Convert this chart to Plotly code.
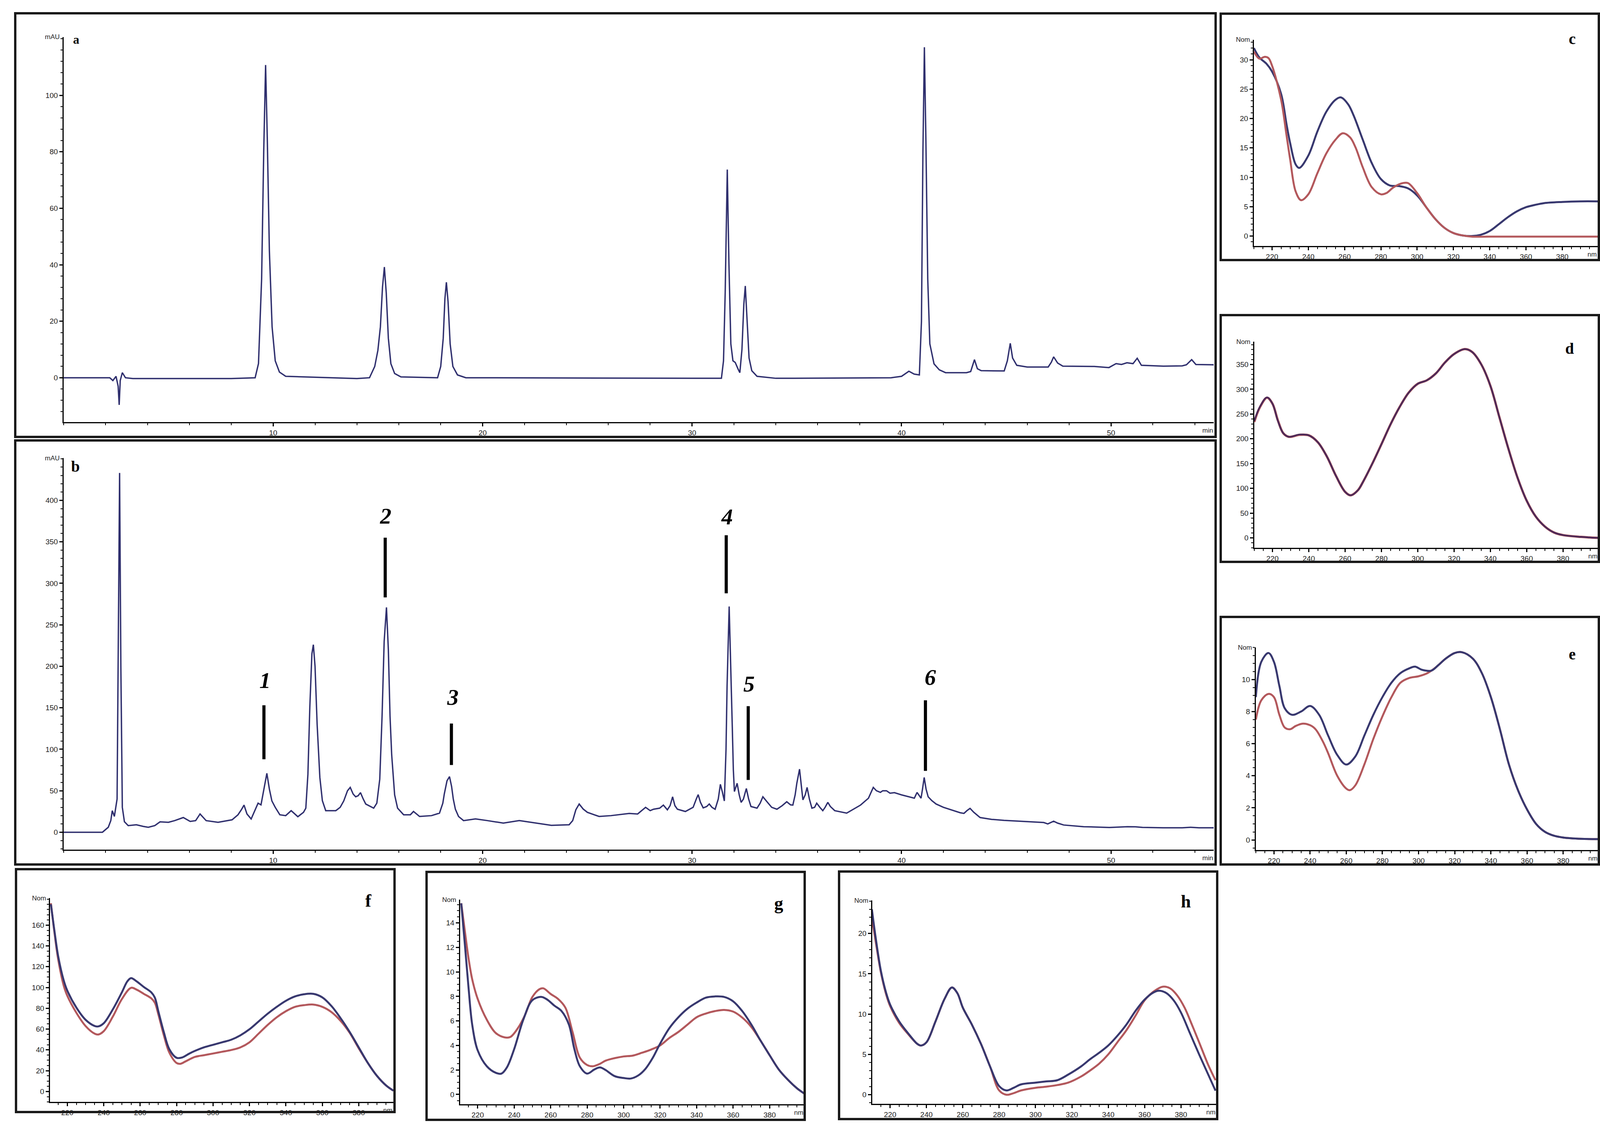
import plotly.graph_objects as go

W, H = 4128, 2894

# ---- chromatogram a (reference standards), time in min / signal in mAU
a_t = [0, 2.2, 2.35, 2.5, 2.6, 2.65, 2.7, 2.8, 2.95, 3.3, 8.0, 9.14, 9.3, 9.45, 9.55, 9.64,
       9.72, 9.82, 9.95, 10.1, 10.3, 10.6, 14.0, 14.6, 14.85, 15.0, 15.12, 15.22, 15.31, 15.4,
       15.5, 15.62, 15.8, 16.1, 17.85, 18.0, 18.12, 18.2, 18.27, 18.35, 18.45, 18.58, 18.8,
       19.2, 31.4, 31.5, 31.58, 31.68, 31.76, 31.85, 31.95, 32.06, 32.2, 32.28, 32.38, 32.47,
       32.54, 32.62, 32.72, 32.85, 33.1, 34.0, 39.5, 40.0, 40.35, 40.6, 40.85, 40.95, 41.02,
       41.09, 41.16, 41.25, 41.35, 41.55, 41.8, 42.1, 43.1, 43.3, 43.48, 43.62, 43.8, 44.9,
       45.05, 45.19, 45.3, 45.5, 46.0, 47.0, 47.15, 47.26, 47.45, 47.7, 48.5, 49.2, 49.9,
       50.24, 50.5, 50.76, 51.05, 51.25, 51.45, 52.5, 53.4, 53.6, 53.85, 54.05, 54.9]
a_y = [0, 0, -1.0, 0.5, -3, -9.6, -1, 1.8, 0, -0.3, -0.3, 0, 5, 35, 80, 110.7,
       85, 45, 18, 6, 2, 0.5, -0.3, 0, 4, 9.7, 18, 32, 39.2, 30,
       14, 5, 1.5, 0.3, 0, 4, 14, 28, 33.8, 27, 12, 4, 1,
       0, -0.2, 6, 30, 73.7, 40, 12, 6, 5.4, 3, 1.8, 10, 26,
       32.5, 22, 7, 2.5, 0.5, -0.2, 0, 0.5, 2.3, 1.3, 1.0, 20, 80,
       117, 85, 35, 12, 4.9, 2.8, 1.8, 1.8, 2.2, 6.4, 3.2, 2.5, 2.4,
       6, 12.2, 7, 4.4, 3.8, 3.8, 5.5, 7.4, 5.2, 4.1, 4.1, 4.0, 3.6,
       5.0, 4.7, 5.3, 5.0, 6.9, 4.4, 4.1, 4.2, 4.6, 6.4, 4.7, 4.6]

# ---- chromatogram b (extract)
b_t = [0, 1.85, 2.13, 2.25, 2.32, 2.42, 2.55, 2.62, 2.67, 2.73, 2.8, 2.9, 3.08, 3.47, 3.8,
       4.04, 4.35, 4.6, 5.0, 5.3, 5.71, 6.04, 6.3, 6.51, 6.8, 7.37, 8.04, 8.32, 8.48, 8.61,
       8.75, 8.95, 9.15, 9.28, 9.42, 9.55, 9.7, 9.82, 9.94, 10.1, 10.32, 10.6, 10.86, 11.18,
       11.45, 11.56, 11.66, 11.75, 11.85, 11.92, 12.0, 12.1, 12.23, 12.35, 12.51, 12.99,
       13.2, 13.37, 13.55, 13.68, 13.82, 13.94, 14.06, 14.17, 14.3, 14.42, 14.8, 14.95,
       15.09, 15.2, 15.3, 15.41, 15.5, 15.58, 15.66, 15.8, 15.94, 16.23, 16.55, 16.7,
       16.99, 17.56, 17.94, 18.1, 18.17, 18.3, 18.42, 18.52, 18.6, 18.7, 18.85, 19.09,
       19.66, 20.23, 20.99, 21.75, 22.5, 23.28, 24.13, 24.3, 24.45, 24.61, 24.8, 25.0,
       25.56, 26.13, 27.0, 27.4, 27.78, 28.0, 28.16, 28.45, 28.63, 28.82, 28.95, 29.07,
       29.18, 29.3, 29.68, 30.05, 30.2, 30.29, 30.4, 30.53, 30.7, 30.82, 30.95, 31.1,
       31.25, 31.35, 31.45, 31.54, 31.62, 31.67, 31.77, 31.85, 31.92, 31.97, 32.02, 32.15,
       32.25, 32.34, 32.45, 32.59, 32.7, 32.81, 33.1, 33.25, 33.38, 33.6, 33.8, 34.05,
       34.3, 34.52, 34.7, 34.81, 34.92, 35.0, 35.13, 35.22, 35.29, 35.4, 35.49, 35.6,
       35.72, 35.85, 35.95, 36.1, 36.24, 36.35, 36.48, 36.6, 36.81, 37.38, 38.04, 38.42,
       38.55, 38.65, 38.8, 38.99, 39.1, 39.28, 39.45, 39.66, 40.0, 40.32, 40.61, 40.74,
       40.85, 40.93, 41.0, 41.08, 41.17, 41.27, 41.45, 41.65, 42.0, 42.41, 42.8, 42.98,
       43.12, 43.27, 43.45, 43.75, 44.3, 44.89, 46.03, 46.79, 46.98, 47.1, 47.26, 47.45,
       47.74, 48.69, 49.92, 50.78, 51.16, 51.5, 52.49, 53.4, 53.8, 54.2, 54.9]
b_y = [0, 0, 6, 14, 26, 19, 40, 250, 433, 200, 30, 12.7, 8, 9, 7,
       6, 8, 12.5, 12, 14, 17.7, 13, 14, 22, 14, 12, 15, 21, 27, 32.7,
       22, 16, 28, 35, 33, 50, 71, 52, 37.7, 30, 21, 20, 26, 18.7,
       24, 29, 70, 150, 215, 226, 200, 130, 66, 38, 26, 26,
       30, 37.7, 50, 54, 46, 42.7, 44, 47.7, 40, 34, 29, 35,
       64, 140, 230, 271, 220, 140, 93, 45, 29, 21, 21, 25,
       19, 20, 23, 35, 46, 62, 67, 55, 40, 27.7, 19, 14,
       16, 14, 11, 14, 11, 8.3, 9, 14, 27, 34, 28, 24,
       19, 20, 22.7, 22, 30, 26, 27.7, 29, 32.7, 27, 32, 42.7,
       32, 27.7, 25, 30, 40, 45.3, 36, 29.3, 31, 34, 30, 27.7,
       40, 57.7, 48, 37.7, 100, 176, 272, 200, 126, 75, 49, 59,
       45, 36, 40, 52.7, 40, 31, 29, 35, 42.7, 36, 30, 27.7,
       32, 36.7, 33, 32.7, 45, 59, 76, 55, 39, 45, 54, 40,
       29, 30, 35, 30, 26, 30, 36, 31, 26, 23, 32.7, 41,
       48, 54, 50, 48, 50, 50, 47, 47.7, 45, 42.7, 41, 48,
       44, 41, 52, 66, 52, 42.7, 38, 34, 30, 26.7, 23.5, 22.7,
       26, 28.7, 24, 17.7, 15.5, 14.3, 12.7, 11.7, 10, 11.5, 13.3, 11,
       8.7, 6.7, 5.7, 6.7, 6.5, 5.8, 5.3, 5.3, 6, 5.3, 5.3]

# numbered compounds in b
peak_names = ["1", "2", "3", "4", "5", "6"]
peak_rt = [9.56, 15.35, 18.51, 31.63, 32.68, 41.14]
peak_label_x = [9.62, 15.37, 18.57, 31.67, 32.72, 41.37]
peak_label_y = [183, 381, 163, 380, 179, 187]
marker_lo = [88, 283, 81, 288, 63, 74]
marker_hi = [153, 355, 131, 358, 152, 159]

# ---- UV spectra (nm / normalised absorbance), blue = sample, red = standard
c_nm_b = [210, 213, 217, 220, 225, 228, 230, 233, 235, 240, 245, 250, 255, 258, 262, 265, 270,
          275, 280, 285, 290, 295, 300, 305, 310, 315, 320, 325, 330, 335, 340, 345, 350, 355,
          360, 365, 370, 380, 390, 399.5]
c_blue = [32, 30.4, 29.3, 28, 24.2, 19, 15.8, 12.2, 11.6, 13.7, 17.8, 21.2, 23.2, 23.6, 22.4,
          20.5, 16.4, 12.4, 9.7, 8.6, 8.5, 8.1, 6.9, 4.9, 2.9, 1.4, 0.5, 0.1, 0, 0.2, 0.85,
          2.0, 3.2, 4.2, 4.9, 5.3, 5.6, 5.8, 5.9, 5.9]
c_nm_r = [210, 213, 216, 218, 220, 225, 228, 230, 233, 236, 240, 245, 250, 255, 259, 263, 266,
          270, 275, 280, 283, 287, 292, 295, 300, 305, 310, 315, 320, 325, 330, 340, 360, 380,
          399.5]
c_red = [31.4, 30.2, 30.5, 30.3, 29, 23.2, 17.1, 13, 7.6, 6.1, 7.1, 10.7, 14.1, 16.4, 17.5,
         16.8, 15.1, 11.7, 8.3, 7.1, 7.3, 8.3, 9.0, 9.0, 7.3, 4.9, 2.9, 1.4, 0.5, 0.1, -0.1,
         -0.1, -0.1, -0.1, -0.1]

d_nm = [210, 213, 217, 220, 223, 226, 229, 235, 240, 245, 250, 255, 260, 263, 267, 270, 275,
        280, 285, 290, 295, 300, 305, 310, 315, 320, 326, 330, 335, 340, 345, 350, 355, 360,
        365, 370, 375, 380, 390, 399.5]
d_blue = [236, 264, 283.6, 271, 236, 211, 204, 208.6, 207, 193, 164, 125, 93, 86, 96, 114, 150,
          189, 229, 264, 293, 311, 318, 332, 354, 371, 381, 375, 350, 307, 243, 179, 121, 75,
          43, 23, 11, 5.7, 2, 0]
d_red = [234, 263, 283, 271, 237, 211, 204, 208, 207, 193, 164, 125, 93, 86, 96, 114, 150,
         189, 229, 264, 293, 311, 318, 332, 354, 371, 381, 375, 350, 307, 243, 179, 121, 75,
         43, 23, 11, 5.7, 2, 0]

e_nm = [210, 213, 217, 220, 223, 226, 230, 235, 240, 245, 250, 255, 260, 265, 270, 275, 280,
        285, 290, 295, 298, 302, 307, 311, 315, 320, 324, 330, 335, 340, 345, 350, 355, 360,
        365, 370, 375, 380, 390, 399.5]
e_blue = [8.9, 11.1, 11.65, 11.1, 9.6, 8.2, 7.8, 8.0, 8.35, 7.8, 6.5, 5.3, 4.7, 5.2, 6.5, 7.8,
          8.9, 9.8, 10.4, 10.7, 10.8, 10.6, 10.55, 10.9, 11.3, 11.65, 11.7, 11.3, 10.4, 8.9,
          6.9, 4.7, 3.1, 1.9, 1.0, 0.5, 0.26, 0.15, 0.07, 0.05]
e_nm_r = [210, 213, 217, 220, 223, 226, 229, 232, 236, 240, 243, 247, 250, 255, 260, 262, 265,
          270, 275, 280, 285, 290, 295, 300, 305, 310, 315, 320, 324, 330, 335, 340, 345, 350,
          355, 360, 365, 370, 375, 380, 390, 399.5]
e_red = [7.5, 8.7, 9.1, 8.9, 7.8, 7.0, 6.9, 7.1, 7.25, 7.15, 6.9, 6.15, 5.4, 4.0, 3.2, 3.1,
         3.4, 4.7, 6.3, 7.7, 8.9, 9.8, 10.1, 10.2, 10.4, 10.8, 11.3, 11.65, 11.7, 11.3, 10.4,
         8.9, 6.9, 4.7, 3.1, 1.9, 1.0, 0.5, 0.26, 0.15, 0.07, 0.05]

f_nm_b = [211, 213, 215, 218, 220, 225, 230, 235, 237, 240, 245, 250, 253, 255, 258, 262, 266,
          268, 270, 273, 276, 280, 283, 287, 290, 295, 300, 305, 310, 315, 320, 325, 330, 335,
          340, 345, 350, 355, 360, 365, 370, 375, 380, 385, 390, 395, 399]
f_blue = [180, 153.7, 130, 107, 97, 80.6, 69, 63, 62.6, 65.6, 79, 95.5, 106, 109, 106, 100.5,
          95.5, 90.5, 77, 57, 40.7, 32.4, 32.7, 36.5, 39, 42.4, 44.9, 47.3, 49.8, 54, 59.8,
          67.3, 74.8, 81.4, 87.2, 91.4, 93.5, 93.9, 90.5, 82.2, 70.6, 57.3, 42.4, 27.4, 15,
          5.8, 0.8]
f_nm_r = [211, 213, 215, 218, 220, 225, 230, 235, 237, 240, 245, 250, 255, 258, 262, 266, 268,
          270, 273, 276, 280, 282, 285, 290, 295, 300, 305, 310, 315, 320, 325, 330, 335, 340,
          345, 350, 355, 360, 365, 370, 375, 380, 385, 390, 395, 399]
f_red = [181, 152, 127, 102, 92, 75.6, 63, 55.6, 54.8, 58, 72, 89, 99.7, 98, 93.9, 89.7, 85.5,
         74, 54, 37.4, 27.4, 26.6, 29, 33.2, 34.9, 36.5, 38.2, 39.9, 42.4, 47.3, 55.6, 64,
         71.4, 77.2, 81.4, 83, 83.6, 81.4, 76.4, 68, 56.5, 41.5, 27.4, 15, 5.8, 0.8]

g_nm_b = [211, 213, 215, 217, 220, 225, 230, 233, 236, 240, 245, 250, 255, 258, 262, 266, 270,
          273, 276, 280, 284, 287, 290, 295, 300, 304, 308, 312, 316, 320, 325, 330, 335, 340,
          345, 350, 355, 360, 365, 370, 375, 380, 385, 390, 395, 399]
g_blue = [15.6, 12.2, 8.7, 5.7, 3.6, 2.3, 1.76, 1.7, 2.2, 3.7, 6.1, 7.7, 7.96, 7.75, 7.25, 6.8,
          5.7, 3.7, 2.3, 1.7, 2.04, 2.2, 2.0, 1.5, 1.34, 1.3, 1.55, 2.1, 3.0, 4.15, 5.4, 6.3,
          7.0, 7.5, 7.9, 8.0, 7.96, 7.6, 6.8, 5.7, 4.4, 3.2, 2.04, 1.2, 0.5, 0.07]
g_nm_r = [211, 213, 215, 217, 220, 225, 230, 235, 238, 242, 246, 250, 254, 256, 260, 264, 268,
          272, 276, 280, 283, 287, 290, 295, 300, 305, 310, 315, 320, 325, 330, 335, 340, 345,
          350, 355, 360, 365, 370, 375, 380, 385, 390, 395, 399]
g_red = [15.6, 13.3, 11.1, 9.4, 7.8, 6.1, 5.0, 4.65, 4.7, 5.4, 6.5, 7.96, 8.6, 8.66, 8.2, 7.8,
         7.1, 5.1, 3.0, 2.4, 2.3, 2.5, 2.75, 2.96, 3.1, 3.17, 3.4, 3.66, 4.0, 4.6, 5.1, 5.7,
         6.3, 6.6, 6.8, 6.9, 6.76, 6.27, 5.5, 4.4, 3.2, 2.04, 1.2, 0.5, 0.07]

h_nm_b = [210, 212, 215, 218, 220, 225, 230, 235, 237, 240, 245, 250, 254, 257, 260, 265, 270,
          275, 280, 284, 288, 292, 300, 306, 312, 318, 325, 330, 335, 340, 345, 350, 355, 360,
          365, 368, 372, 376, 380, 385, 390, 395, 399]
h_blue = [23, 19.6, 15.3, 12.5, 11.2, 9.1, 7.6, 6.3, 6.1, 6.5, 9.1, 11.9, 13.3, 12.6, 10.8,
          8.7, 6.3, 3.5, 1.07, 0.53, 0.86, 1.28, 1.5, 1.65, 1.8, 2.5, 3.5, 4.4, 5.2, 6.1, 7.3,
          8.7, 10.4, 11.8, 12.7, 12.9, 12.6, 11.7, 10.2, 7.6, 5.0, 2.5, 0.5]
h_nm_r = [210, 212, 215, 218, 220, 225, 230, 235, 237, 240, 245, 250, 254, 257, 260, 265, 270,
          275, 280, 284, 288, 292, 300, 306, 312, 318, 325, 330, 335, 340, 345, 350, 355, 360,
          365, 370, 374, 378, 382, 386, 390, 395, 399]
h_red = [21.9, 19.1, 15.1, 12.3, 11.0, 8.9, 7.5, 6.3, 6.1, 6.5, 9.1, 11.9, 13.3, 12.6, 10.8,
         8.7, 6.3, 3.5, 0.53, 0, 0.2, 0.53, 0.86, 1.0, 1.2, 1.5, 2.25, 3.0, 3.85, 5.0, 6.5,
         8.0, 9.8, 11.7, 12.8, 13.4, 13.2, 12.3, 10.8, 8.7, 6.5, 3.7, 1.8]

# tick labels
chrom_x_ticks = [10, 20, 30, 40, 50]
a_y_ticks = [0, 20, 40, 60, 80, 100]
b_y_ticks = [0, 50, 100, 150, 200, 250, 300, 350, 400]
nm_ticks = [220, 240, 260, 280, 300, 320, 340, 360, 380]
c_y_ticks = [0, 5, 10, 15, 20, 25, 30]
d_y_ticks = [0, 50, 100, 150, 200, 250, 300, 350]
e_y_ticks = [0, 2, 4, 6, 8, 10]
f_y_ticks = [0, 20, 40, 60, 80, 100, 120, 140, 160]
g_y_ticks = [0, 2, 4, 6, 8, 10, 12, 14]
h_y_ticks = [0, 5, 10, 15, 20]

NAVY = "#2f2f6e"
BLUE = "#38386f"
RED = "#b3585c"

# panel layout in page pixels: plot area (x0, y0, x1, y1), frame, axes setup
panels = [
    # letter, plot area, frame, xrange, yrange, xticks, xminor, yticks, yminor, ylabel, xunit
    ("a", (163, 95, 3107, 1081), (39, 34, 3112, 1119), [0, 54.9], [-15.7, 120.6],
     chrom_x_ticks, 2, a_y_ticks, 4, "mAU", "min"),
    ("b", (163, 1173, 3107, 2176), (39, 1128, 3112, 2214), [0, 54.9], [-21, 451],
     chrom_x_ticks, 2, b_y_ticks, 10, "mAU", "min"),
    ("c", (3210, 102, 4090, 630), (3125, 35, 4093, 666), [210, 399.5], [-1.7, 33.4],
     nm_ticks, 5, c_y_ticks, 1, "Nom", "nm"),
    ("d", (3211, 875, 4092, 1403), (3125, 807, 4093, 1439), [210, 399.5], [-20, 396],
     nm_ticks, 5, d_y_ticks, 10, "Nom", "nm"),
    ("e", (3215, 1658, 4092, 2177), (3125, 1580, 4093, 2214), [210, 399.5], [-0.63, 12.0],
     nm_ticks, 5, e_y_ticks, 0.5, "Nom", "nm"),
    ("f", (128, 2300, 1007, 2822), (41, 2226, 1010, 2848), [210.5, 399], [-10, 186],
     nm_ticks, 5, f_y_ticks, 5, "Nom", "nm"),
    ("g", (1178, 2304, 2059, 2828), (1092, 2233, 2060, 2868), [210.4, 399], [-0.8, 15.9],
     nm_ticks, 5, g_y_ticks, 0.5, "Nom", "nm"),
    ("h", (2233, 2306, 3114, 2827), (2148, 2232, 3116, 2866), [210.2, 399.5], [-1.13, 24.1],
     nm_ticks, 5, h_y_ticks, 1, "Nom", "nm"),
]
letter_pos = [(195, 101, 32), (193, 1194, 40), (4025, 99, 40), (4018, 893, 40),
              (4025, 1675, 40), (943, 2306, 46), (1993, 2313, 46), (3036, 2308, 46)]

series = [
    [(a_t, a_y, NAVY, 3.5, "linear")],
    [(b_t, b_y, NAVY, 3.5, "linear")],
    [(c_nm_b, c_blue, BLUE, 5, "spline"), (c_nm_r, c_red, RED, 5, "spline")],
    [(d_nm, d_red, RED, 6, "spline"), (d_nm, d_blue, "#4a2a5a", 4, "spline")],
    [(e_nm_r, e_red, RED, 5, "spline"), (e_nm, e_blue, BLUE, 5, "spline")],
    [(f_nm_r, f_red, RED, 5, "spline"), (f_nm_b, f_blue, BLUE, 5, "spline")],
    [(g_nm_r, g_red, RED, 5, "spline"), (g_nm_b, g_blue, BLUE, 5, "spline")],
    [(h_nm_r, h_red, RED, 5, "spline"), (h_nm_b, h_blue, BLUE, 5, "spline")],
]

fig = go.Figure()
shapes = []
annotations = []
tick_font = dict(family="Liberation Sans", size=19, color="#222")

for i, (p, ser) in enumerate(zip(panels, series)):
    letter, area, frame, xr, yr, xt, xm, yt, ym, ylab, xunit = p
    n = "" if i == 0 else str(i + 1)
    x0, y0, x1, y1 = area
    common = dict(showline=True, linecolor="black", linewidth=3, ticks="outside",
                  ticklen=8, tickwidth=3, tickcolor="black", showgrid=False,
                  zeroline=False, tickfont=tick_font)
    fig.layout["xaxis" + n] = dict(domain=[x0 / W, x1 / W], anchor="y" + n, range=xr,
                                   tickvals=xt, ticktext=[str(v) for v in xt],
                                   minor=dict(dtick=xm, tick0=0, ticklen=5, tickwidth=2,
                                              tickcolor="black", ticks="outside"),
                                   **common)
    fig.layout["yaxis" + n] = dict(domain=[1 - y1 / H, 1 - y0 / H], anchor="x" + n, range=yr,
                                   tickvals=yt, ticktext=[str(v) for v in yt],
                                   minor=dict(dtick=ym, tick0=0, ticklen=5, tickwidth=2,
                                              tickcolor="black", ticks="outside"),
                                   **common)
    for xs, ys, col, w, shape in ser:
        fig.add_trace(go.Scatter(x=xs, y=ys, mode="lines", xaxis="x" + n, yaxis="y" + n,
                                 line=dict(color=col, width=w, shape=shape),
                                 showlegend=False, hoverinfo="skip"))
    # frame round each panel
    fx0, fy0, fx1, fy1 = frame
    shapes.append(dict(type="rect", xref="paper", yref="paper", x0=fx0 / W, x1=fx1 / W,
                       y0=1 - fy1 / H, y1=1 - fy0 / H, line=dict(color="#1a1a1a", width=6),
                       layer="above"))
    # unit labels
    annotations.append(dict(xref="x" + n + " domain", yref="y" + n + " domain", x=0, y=1,
                            xanchor="right", yanchor="middle", xshift=-8, showarrow=False,
                            text=ylab, font=dict(family="Liberation Sans", size=17,
                                                 color="#222")))
    annotations.append(dict(xref="x" + n + " domain", yref="y" + n + " domain", x=1, y=0,
                            xanchor="right", yanchor="top", yshift=-10, showarrow=False,
                            text=xunit, font=dict(family="Liberation Sans", size=17,
                                                  color="#222")))
    lx, ly, ls = letter_pos[i]
    annotations.append(dict(xref="paper", yref="paper", x=lx / W, y=1 - ly / H,
                            xanchor="center", yanchor="middle", showarrow=False,
                            text="<b>" + letter + "</b>",
                            font=dict(family="Liberation Serif", size=ls, color="black")))

# peak markers in chromatogram b
for name, rt, lx, ly, lo, hi in zip(peak_names, peak_rt, peak_label_x, peak_label_y,
                                    marker_lo, marker_hi):
    shapes.append(dict(type="line", xref="x2", yref="y2", x0=rt, x1=rt, y0=lo, y1=hi,
                       line=dict(color="black", width=8)))
    annotations.append(dict(xref="x2", yref="y2", x=lx, y=ly, showarrow=False,
                            text="<b><i>" + name + "</i></b>",
                            font=dict(family="Liberation Serif", size=58, color="black")))

fig.update_layout(width=W, height=H, margin=dict(l=0, r=0, t=0, b=0),
                  paper_bgcolor="white", plot_bgcolor="white",
                  shapes=shapes, annotations=annotations, showlegend=False)

# page has no margin so the figure sits exactly in the window
fig.write_html("out.html", config={"displayModeBar": False},
               post_script="document.body.style.margin='0';"
                           "document.body.style.overflow='hidden';")
